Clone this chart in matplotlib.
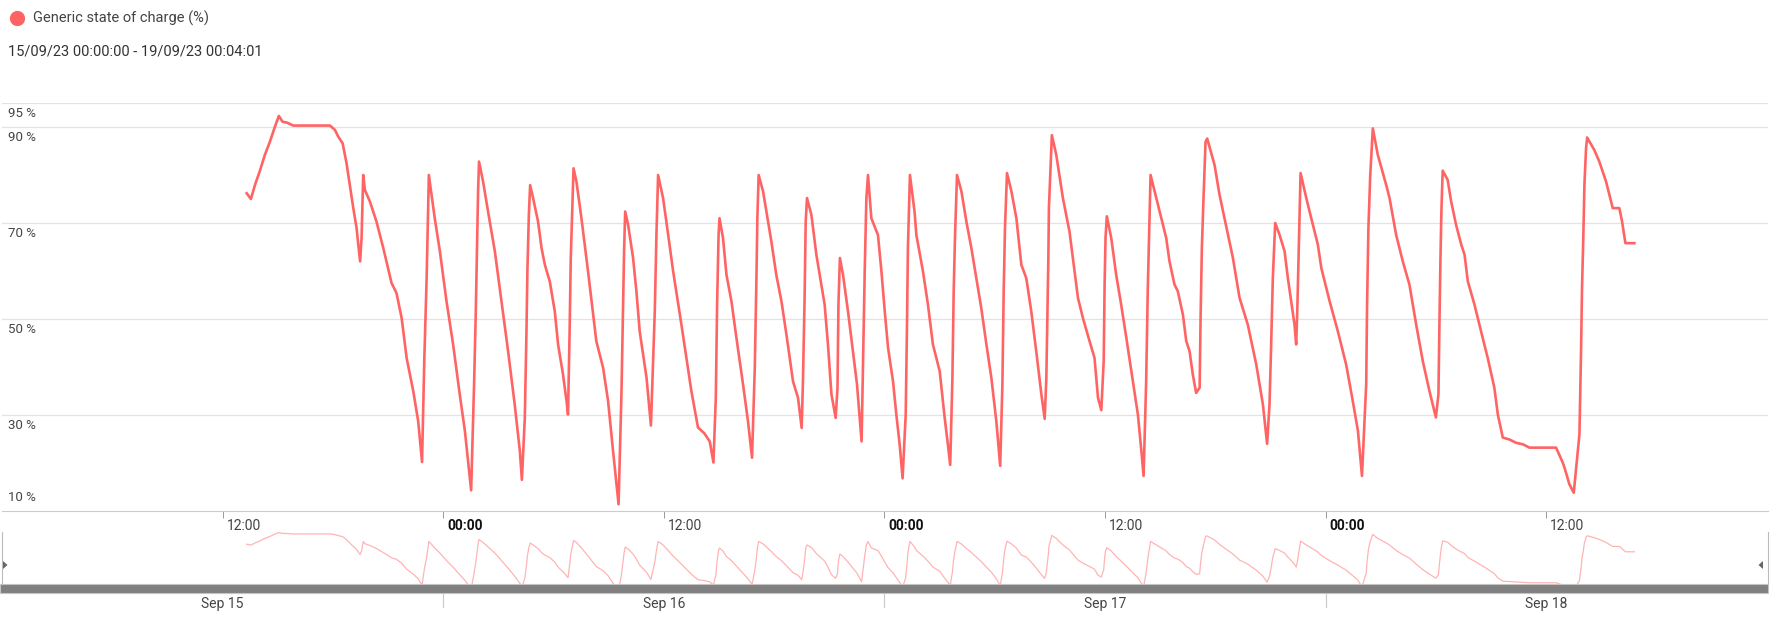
import numpy as np
import pandas as pd
import matplotlib
matplotlib.use("Agg")
import matplotlib.pyplot as plt
import matplotlib.transforms as mtransforms
from matplotlib.lines import Line2D
from matplotlib.patches import Rectangle, Polygon

plt.rcParams['font.family'] = ['Roboto', 'DejaVu Sans']

W, H = 1775, 627
LINE = '#ff6464'
NAV_LINE = '#ffb4b4'

start = pd.Timestamp("2023-09-15 00:00:00")
end = pd.Timestamp("2023-09-19 00:04:01")

# hours since 15/09 00:00
hours = [
    13.31, 13.54, 13.76, 14.03, 14.30, 14.57, 14.85, 15.06, 15.26, 15.51,
    15.84, 17.84, 18.11, 18.29, 18.53, 18.74, 18.92, 19.11, 19.29, 19.38,
    19.48, 19.56, 19.65, 19.74, 20.01, 20.37, 20.74, 21.19, 21.46, 21.74,
    22.01, 22.37, 22.64, 22.85, 22.97, 23.10, 23.18, 23.22, 23.27, 23.54,
    23.82, 24.18, 24.54, 24.90, 25.18, 25.52, 25.68, 25.77, 25.84, 25.90,
    25.95, 26.17, 26.44, 26.81, 27.17, 27.53, 27.89, 28.17, 28.28, 28.44,
    28.53, 28.58, 28.66, 28.73, 28.89, 29.16, 29.35, 29.53, 29.80, 30.07,
    30.25, 30.52, 30.71, 30.79, 30.88, 30.94, 31.01, 31.09, 31.25, 31.52,
    31.88, 32.33, 32.70, 32.97, 33.24, 33.54, 33.70, 33.79, 33.84, 33.90,
    34.06, 34.33, 34.51, 34.69, 35.06, 35.30, 35.51, 35.60, 35.69, 35.96,
    36.14, 36.51, 36.96, 37.23, 37.50, 37.86, 38.20, 38.50, 38.70, 38.83,
    38.90, 38.98, 39.03, 39.22, 39.41, 39.68, 39.95, 40.31, 40.58, 40.80,
    40.95, 41.04, 41.09, 41.16, 41.40, 41.58, 41.85, 42.12, 42.40, 42.67,
    43.03, 43.30, 43.50, 43.57, 43.66, 43.72, 43.79, 44.03, 44.30, 44.57,
    44.75, 44.93, 45.12, 45.35, 45.45, 45.50, 45.58, 45.75, 46.02, 46.29,
    46.51, 46.66, 46.76, 46.84, 46.93, 47.02, 47.11, 47.29, 47.65, 47.84,
    48.02, 48.20, 48.47, 48.65, 48.83, 48.99, 49.16, 49.23, 49.28, 49.39,
    49.64, 49.74, 50.10, 50.37, 50.64, 51.01, 51.28, 51.45, 51.58, 51.70,
    51.77, 51.84, 51.95, 52.19, 52.46, 52.73, 53.00, 53.27, 53.55, 53.82,
    54.09, 54.30, 54.42, 54.49, 54.56, 54.67, 54.91, 55.18, 55.45, 55.72,
    55.99, 56.26, 56.54, 56.72, 56.81, 56.86, 56.92, 56.95, 57.03, 57.11,
    57.35, 57.71, 58.07, 58.53, 58.80, 59.16, 59.43, 59.62, 59.80, 59.93,
    59.98, 60.03, 60.10, 60.34, 60.61, 60.88, 61.16, 61.52, 61.79, 61.98,
    62.10, 62.24, 62.33, 62.42, 62.48, 62.70, 62.97, 63.33, 63.51, 63.78,
    63.96, 64.24, 64.42, 64.60, 64.78, 64.96, 65.15, 65.20, 65.27, 65.36,
    65.47, 65.56, 65.96, 66.23, 66.50, 66.96, 67.32, 67.77, 68.23, 68.59,
    68.82, 68.95, 69.04, 69.13, 69.26, 69.50, 69.77, 69.95, 70.13, 70.31,
    70.40, 70.46, 70.53, 70.58, 70.64, 70.95, 71.22, 71.58, 71.77, 72.22,
    72.67, 73.12, 73.48, 73.76, 73.98, 74.21, 74.26, 74.33, 74.43, 74.57,
    74.84, 75.30, 75.48, 75.84, 76.20, 76.56, 76.93, 77.29, 77.65, 78.00,
    78.14, 78.19, 78.25, 78.30, 78.37, 78.64, 78.83, 79.10, 79.38, 79.56,
    79.74, 80.10, 80.46, 80.82, 81.18, 81.37, 81.64, 82.00, 82.37, 82.73,
    83.09, 84.54, 84.90, 85.00, 85.26, 85.50, 85.72, 85.81, 85.90, 85.95,
    86.02, 86.08, 86.17, 86.23, 86.62, 86.89, 87.26, 87.62, 87.98, 88.13,
    88.31, 88.80,
]

# state of charge in %
soc = [
    76.2, 75.0, 77.9, 80.9, 84.2, 86.9, 90.1, 92.3, 91.1, 90.9,
    90.3, 90.3, 89.4, 88.0, 86.6, 82.5, 77.9, 73.1, 68.9, 65.5,
    62.0, 66.9, 80.0, 76.9, 74.5, 70.3, 64.8, 57.5, 55.4, 50.2,
    41.9, 35.0, 28.7, 20.2, 41.2, 58.6, 72.4, 80.0, 78.6, 71.0,
    64.1, 53.7, 44.7, 34.3, 26.7, 14.3, 36.4, 50.9, 64.8, 76.9,
    82.8, 78.6, 72.4, 64.1, 53.7, 43.3, 32.2, 22.5, 16.5, 29.4,
    47.4, 59.9, 71.7, 77.9, 75.2, 70.3, 64.8, 61.3, 57.8, 51.6,
    44.7, 38.4, 32.9, 30.1, 48.1, 62.7, 71.7, 81.4, 78.6, 71.0,
    59.9, 45.4, 39.8, 32.9, 22.5, 11.4, 35.0, 53.7, 64.1, 72.4,
    69.6, 62.7, 55.8, 47.4, 37.8, 27.8, 51.6, 67.5, 80.0, 75.2,
    70.3, 59.9, 48.8, 41.9, 35.0, 27.4, 26.2, 24.5, 20.1, 33.6,
    53.0, 67.5, 71.0, 66.9, 59.2, 53.7, 46.1, 36.4, 28.7, 21.1,
    39.8, 58.5, 71.0, 80.0, 76.6, 72.4, 66.2, 59.2, 53.7, 46.8,
    37.0, 33.6, 27.3, 37.0, 54.4, 70.3, 75.2, 71.7, 63.4, 57.2,
    53.0, 44.7, 34.3, 29.4, 35.7, 53.0, 62.7, 59.2, 51.6, 43.3,
    36.4, 29.4, 24.5, 41.2, 59.9, 75.2, 80.0, 71.0, 67.5, 59.9,
    51.6, 44.0, 37.0, 30.1, 23.9, 16.8, 30.1, 48.8, 64.8, 80.0,
    72.4, 67.5, 59.9, 53.0, 44.7, 39.1, 29.4, 24.0, 19.6, 37.7,
    55.8, 66.9, 80.0, 76.6, 70.3, 64.8, 58.5, 52.3, 44.7, 37.7,
    28.7, 19.4, 36.4, 55.8, 68.9, 80.4, 76.6, 71.0, 61.3, 58.5,
    51.6, 43.3, 34.3, 29.2, 37.7, 49.5, 62.7, 73.1, 80.7, 88.3,
    84.2, 75.2, 68.2, 54.4, 50.2, 45.4, 41.9, 33.6, 31.0, 41.2,
    57.2, 66.9, 71.4, 66.9, 59.2, 53.0, 46.1, 37.0, 30.1, 22.5,
    17.3, 37.0, 56.5, 70.3, 80.0, 76.6, 72.4, 66.9, 62.0, 57.2,
    55.8, 50.9, 45.4, 43.3, 38.4, 34.6, 35.7, 50.2, 64.8, 75.2,
    86.9, 87.6, 82.1, 75.9, 71.0, 62.7, 54.4, 48.8, 40.5, 32.2,
    24.0, 32.2, 44.7, 58.5, 70.0, 67.5, 64.1, 58.5, 53.7, 48.8,
    44.7, 51.6, 62.7, 71.0, 80.4, 75.2, 71.0, 65.5, 60.6, 53.7,
    47.4, 40.5, 32.9, 26.7, 17.3, 36.4, 53.7, 68.9, 80.0, 89.7,
    84.2, 77.9, 75.2, 67.5, 62.0, 57.2, 48.8, 41.2, 35.0, 29.5,
    34.3, 48.1, 62.7, 72.4, 80.9, 79.0, 74.5, 69.6, 65.5, 63.4,
    57.8, 53.0, 47.4, 41.9, 35.7, 30.1, 25.3, 24.9, 24.2, 23.9,
    23.2, 23.2, 20.1, 19.0, 15.6, 13.8, 22.5, 26.0, 44.0, 56.5,
    66.9, 77.9, 85.6, 87.8, 85.2, 82.8, 78.6, 73.1, 73.1, 70.3,
    65.8, 65.8,
]

y_ticks = [95, 90, 70, 50, 30, 10]
y_tick_labels = ['95 %', '90 %', '70 %', '50 %', '30 %', '10 %']
x_ticks = pd.date_range("2023-09-15 12:00", periods=7, freq="12h")
day_labels = ['Sep 15', 'Sep 16', 'Sep 17', 'Sep 18']
day_noons = pd.date_range("2023-09-15 12:00", periods=4, freq="24h")
midnights = pd.date_range("2023-09-16 00:00", periods=3, freq="24h")

times = start + pd.to_timedelta(hours, unit="h")


def px_axes(fig, left, top, right, bottom):
    return fig.add_axes([left / W, 1 - bottom / H, (right - left) / W, (bottom - top) / H])


def px_off(fig, dx, dy):
    return mtransforms.ScaledTranslation(dx / fig.dpi, dy / fig.dpi, fig.dpi_scale_trans)


fig = plt.figure(figsize=(W / 100, H / 100), dpi=100)
fig.patch.set_facecolor('white')

# header: legend dot and date range
fig.add_artist(Line2D([17 / W], [1 - 18 / H], transform=fig.transFigure, marker='o',
                      markersize=11, markerfacecolor=LINE, markeredgecolor='none',
                      linestyle='none'))
fig.text(33 / W, 1 - 18 / H, 'Generic state of charge (%)', fontsize=10.5,
         color='#444444', va='center', ha='left')
fig.text(8 / W, 1 - 52 / H, '15/09/23 00:00:00 - 19/09/23 00:04:01', fontsize=10.5,
         color='#333333', va='center', ha='left')

# main chart
ax = px_axes(fig, 2, 103, 1768, 511)
ax.plot(times, soc, color=LINE, lw=1.9, solid_joinstyle='round')
ax.set_xlim(start, end)
ax.set_ylim(10, 95)
for v in y_ticks[:-1]:
    ax.axhline(v, color='#e3e3e3', lw=0.9, zorder=0)
for s in ['top', 'left', 'right']:
    ax.spines[s].set_visible(False)
ax.spines['bottom'].set_color('#cccccc')
ax.set_yticks([])
ax.set_xticks(x_ticks)
ax.set_xticklabels(['00:00' if t.hour == 0 else '12:00' for t in x_ticks])
ax.tick_params(axis='x', direction='out', length=5, width=0.7, color='#999999',
               pad=0.5, labelsize=10, labelcolor='#444444')
for lab, t in zip(ax.get_xticklabels(), x_ticks):
    lab.set_horizontalalignment('left')
    lab.set_transform(lab.get_transform() + px_off(fig, 4, 0))
    if t.hour == 0:
        lab.set_fontweight('bold')
        lab.set_color('#111111')

ylab_tr = mtransforms.blended_transform_factory(fig.transFigure, ax.transData)
for v, lab in zip(y_ticks, y_tick_labels):
    if v == 10:
        fig.text(8 / W, v, lab, transform=ylab_tr + px_off(fig, 0, 7), fontsize=9.5,
                 color='#444444', va='bottom', ha='left')
    else:
        fig.text(8 / W, v, lab, transform=ylab_tr + px_off(fig, 0, -4), fontsize=9.5,
                 color='#444444', va='top', ha='left')

# range navigator
nav = px_axes(fig, 2, 532, 1768, 584)
nav.plot(times, soc, color=NAV_LINE, lw=0.9)
nav.set_xlim(start, end)
nav.set_ylim(21.5, 93)
nav.set_xticks([])
nav.set_yticks([])
nav.spines['top'].set_visible(False)
nav.spines['bottom'].set_visible(False)
nav.spines['left'].set_color('#bbbbbb')
nav.spines['right'].set_color('#bbbbbb')

fig.patches.append(Rectangle((0, 1 - 593 / H), 1768 / W, 9 / H, transform=fig.transFigure,
                             facecolor='#808080', edgecolor='#c4c4c4', lw=0.8))
for pts in [[(3, 561), (3, 569), (7.5, 565)], [(1763, 561), (1763, 569), (1758.5, 565)]]:
    fig.patches.append(Polygon([(x / W, 1 - y / H) for x, y in pts], closed=True,
                               transform=fig.transFigure, facecolor='#666666',
                               edgecolor='none'))

sep_tr = mtransforms.blended_transform_factory(nav.transData, fig.transFigure)
for m in midnights:
    nav.plot([m, m], [1 - 594 / H, 1 - 607 / H], transform=sep_tr, color='#cccccc',
             lw=0.9, clip_on=False)
for t, lab in zip(day_noons, day_labels):
    nav.text(t, 1 - 604 / H, lab, transform=sep_tr, fontsize=10, color='#444444',
             ha='center', va='center')

fig.savefig('out.png', dpi=100, facecolor='white')
